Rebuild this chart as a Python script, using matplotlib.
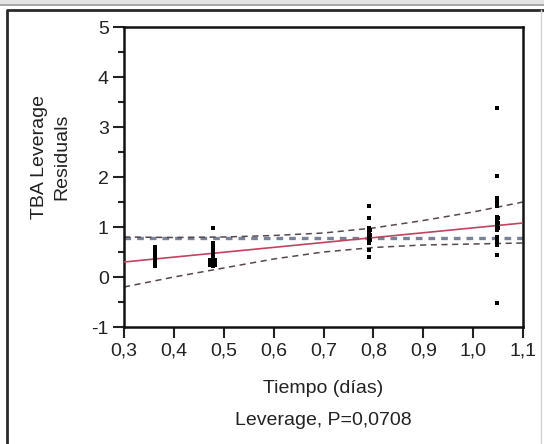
import matplotlib
matplotlib.use("Agg")
import matplotlib.pyplot as plt
from matplotlib.lines import Line2D
from matplotlib.patches import Rectangle
from matplotlib.ticker import MultipleLocator, FixedLocator

plt.rcParams['font.family'] = ['Liberation Sans', 'DejaVu Sans']

# Leverage residuals by time point (each entry: tiempo, residual)
tiempo_a = [0.362] * 9
resid_a = [0.22, 0.27, 0.32, 0.37, 0.42, 0.47, 0.52, 0.57, 0.60]

tiempo_b = [0.478] * 12 + [0.473, 0.473, 0.473, 0.483, 0.483, 0.483]
resid_b = [0.98, 0.68, 0.63, 0.58, 0.53, 0.48, 0.43, 0.38, 0.34, 0.30, 0.26, 0.23,
           0.24, 0.29, 0.34, 0.24, 0.29, 0.34]

tiempo_c = [0.791] * 11 + [0.793, 0.793, 0.793]
resid_c = [1.42, 1.18, 0.98, 0.93, 0.88, 0.83, 0.78, 0.73, 0.68, 0.54, 0.40,
           0.75, 0.85, 0.95]

tiempo_d = [1.047] * 18 + [1.050, 1.050, 1.050]
resid_d = [3.38, 2.02, 1.58, 1.53, 1.48, 1.42, 1.20, 1.15, 1.10, 1.05, 1.00, 0.95,
           0.80, 0.74, 0.68, 0.64, 0.44, -0.52, 0.98, 1.08, 1.18]

# Fitted line and its confidence curves
fit_x = [0.30, 1.10]
fit_y = [0.30, 1.08]
band_x = [0.30, 0.40, 0.50, 0.60, 0.70, 0.80, 0.90, 1.00, 1.10]
band_upper = [0.80, 0.79, 0.80, 0.83, 0.88, 0.98, 1.13, 1.30, 1.50]
band_lower = [-0.20, 0.00, 0.18, 0.36, 0.50, 0.59, 0.64, 0.66, 0.68]
mean_resid = 0.78

x_ticks = [0.3, 0.4, 0.5, 0.6, 0.7, 0.8, 0.9, 1.0, 1.1]
x_tick_labels = ["0,3", "0,4", "0,5", "0,6", "0,7", "0,8", "0,9", "1,0", "1,1"]
y_ticks = [-1, 0, 1, 2, 3, 4, 5]
y_tick_labels = ["-1", "0", "1", "2", "3", "4", "5"]

W, H = 544, 444
fig = plt.figure(figsize=(W / 100, H / 100), dpi=100)
fig.patch.set_facecolor("white")

# Panel header strip and outline
fig.add_artist(Rectangle((0, 1 - 5 / H), 1, 5 / H, transform=fig.transFigure,
                         facecolor="#e4e4e4", edgecolor="none"))
fig.add_artist(Line2D([0, 1], [1 - 5 / H, 1 - 5 / H], transform=fig.transFigure,
                      color="#9a9a9a", lw=1.2))
fig.add_artist(Line2D([7 / W, 7 / W, 1], [0, 1 - 10 / H, 1 - 10 / H],
                      transform=fig.transFigure, color="#2a2a2a", lw=2))
fig.add_artist(Line2D([541 / W, 541 / W], [0, 1 - 10 / H],
                      transform=fig.transFigure, color="#d0d0d0", lw=1))

ax = fig.add_axes([124 / W, 1 - 327 / H, (523 - 124) / W, (327 - 27) / H])
ax.set_xlim(0.3, 1.1)
ax.set_ylim(-1, 5)

ax.plot(band_x, [mean_resid] * len(band_x), color="#7a8298", lw=2.4,
        ls=(0, (2.0, 1.8)), zorder=2)
ax.plot(band_x, band_upper, color="#55484f", lw=1.1, ls=(0, (4, 3)), zorder=2)
ax.plot(band_x, band_lower, color="#55484f", lw=1.1, ls=(0, (4, 3)), zorder=2)
ax.plot(fit_x, fit_y, color="#c04460", lw=1.2, zorder=3)

for tx, ry in [(tiempo_a, resid_a), (tiempo_b, resid_b),
               (tiempo_c, resid_c), (tiempo_d, resid_d)]:
    ax.plot(tx, ry, ls="none", marker="s", ms=2.8, mfc="black", mec="black",
            mew=0, zorder=4)

for s in ax.spines.values():
    s.set_linewidth(1.8)
    s.set_color("#111111")

ax.xaxis.set_major_locator(FixedLocator(x_ticks))
ax.set_xticklabels(x_tick_labels)
ax.yaxis.set_major_locator(FixedLocator(y_ticks))
ax.set_yticklabels(y_tick_labels)
ax.yaxis.set_minor_locator(MultipleLocator(0.5))
ax.tick_params(axis="both", which="major", direction="out", length=8, width=1.5,
               labelsize=14, colors="#222222", pad=3)
ax.tick_params(axis="y", which="minor", direction="out", length=4, width=1.5,
               colors="#222222")

ax.set_ylabel("TBA Leverage\nResiduals", fontsize=14, color="#222222",
              linespacing=1.4)
ax.yaxis.set_label_coords(-0.135, 0.567)
ax.set_xlabel("Tiempo (días)", fontsize=14, color="#222222", labelpad=15)
fig.text((124 + 523) / 2 / W, 1 - 420 / H, "Leverage, P=0,0708", fontsize=14,
         color="#222222", ha="center", va="center")

fig.savefig("out.png", dpi=100)
